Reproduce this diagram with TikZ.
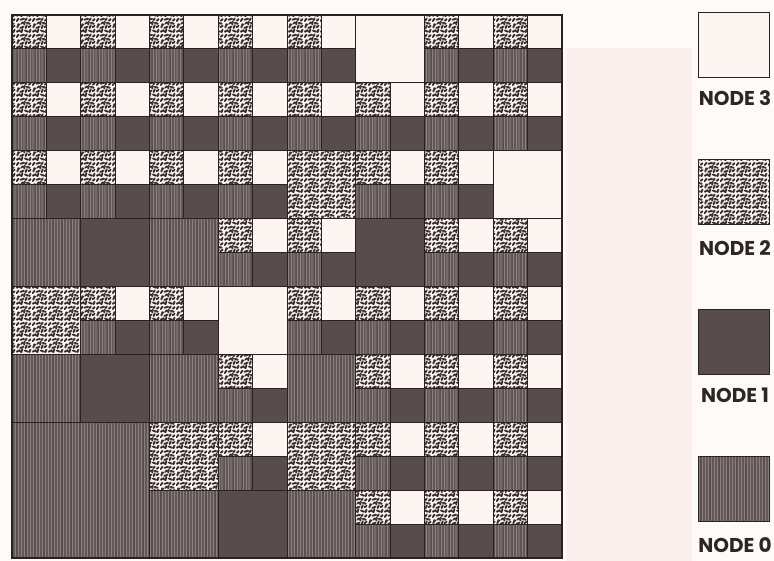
\documentclass[tikz,border=0pt]{standalone}
\usepackage{fontspec}
\newfontfamily\legendfont{Poppins}
\usetikzlibrary{patterns}

\definecolor{pagebg}{HTML}{FEFAF8}
\definecolor{pinktint}{HTML}{FBF0ED}
\definecolor{whitec}{HTML}{FDF5F1}
\definecolor{darkc}{HTML}{584C4C}
\definecolor{stripebase}{HTML}{5A4E4E}
\definecolor{stripelight}{HTML}{A89D9B}
\definecolor{speckbg}{HTML}{FAF3EF}
\definecolor{speckink}{HTML}{3A3232}
\definecolor{edgec}{HTML}{2A2222}
\definecolor{labelc}{HTML}{2E2626}

\pgfdeclarepatternformonly{speckle}{\pgfqpoint{0pt}{0pt}}{\pgfqpoint{16pt}{16pt}}{\pgfqpoint{16pt}{16pt}}{%
  \pgfsetlinewidth{2.0pt}\pgfsetroundcap\pgfsetroundjoin
  \pgfpathmoveto{\pgfqpoint{0.8pt}{1.3pt}}\pgfpathlineto{\pgfqpoint{3.5pt}{2.9pt}}\pgfpathlineto{\pgfqpoint{4.2pt}{1.6pt}}%
  \pgfpathmoveto{\pgfqpoint{5.6pt}{0.6pt}}\pgfpathlineto{\pgfqpoint{6.7pt}{3.8pt}}%
  \pgfpathmoveto{\pgfqpoint{9.3pt}{2.6pt}}\pgfpathlineto{\pgfqpoint{12.5pt}{1.4pt}}%
  \pgfpathmoveto{\pgfqpoint{14.1pt}{0.8pt}}\pgfpathlineto{\pgfqpoint{15.2pt}{3.5pt}}%
  \pgfpathmoveto{\pgfqpoint{1.4pt}{5.8pt}}\pgfpathlineto{\pgfqpoint{2.4pt}{9.0pt}}\pgfpathlineto{\pgfqpoint{3.6pt}{8.6pt}}%
  \pgfpathmoveto{\pgfqpoint{4.5pt}{5.3pt}}\pgfpathlineto{\pgfqpoint{7.8pt}{6.6pt}}%
  \pgfpathmoveto{\pgfqpoint{10.1pt}{5.1pt}}\pgfpathlineto{\pgfqpoint{11.2pt}{8.0pt}}%
  \pgfpathmoveto{\pgfqpoint{13.1pt}{6.1pt}}\pgfpathlineto{\pgfqpoint{15.2pt}{7.4pt}}%
  \pgfpathmoveto{\pgfqpoint{5.5pt}{9.6pt}}\pgfpathlineto{\pgfqpoint{7.1pt}{11.0pt}}%
  \pgfpathmoveto{\pgfqpoint{8.6pt}{8.8pt}}\pgfpathlineto{\pgfqpoint{9.0pt}{11.8pt}}%
  \pgfpathmoveto{\pgfqpoint{11.2pt}{10.6pt}}\pgfpathlineto{\pgfqpoint{14.4pt}{9.6pt}}%
  \pgfpathmoveto{\pgfqpoint{0.8pt}{12.5pt}}\pgfpathlineto{\pgfqpoint{2.6pt}{14.9pt}}%
  \pgfpathmoveto{\pgfqpoint{4.8pt}{13.8pt}}\pgfpathlineto{\pgfqpoint{8.3pt}{14.9pt}}%
  \pgfpathmoveto{\pgfqpoint{9.9pt}{13.3pt}}\pgfpathlineto{\pgfqpoint{11.2pt}{15.2pt}}%
  \pgfpathmoveto{\pgfqpoint{13.4pt}{12.8pt}}\pgfpathlineto{\pgfqpoint{15.2pt}{14.4pt}}%
  \pgfusepath{stroke}}

\pgfdeclarepatternformonly{vstripes}{\pgfqpoint{0pt}{0pt}}{\pgfqpoint{9pt}{700pt}}{\pgfqpoint{9pt}{700pt}}{%
  \pgfpathrectangle{\pgfqpoint{0.4pt}{0pt}}{\pgfqpoint{0.6pt}{700pt}}%
  \pgfpathrectangle{\pgfqpoint{2.0pt}{0pt}}{\pgfqpoint{0.4pt}{700pt}}%
  \pgfpathrectangle{\pgfqpoint{3.6pt}{0pt}}{\pgfqpoint{0.7pt}{700pt}}%
  \pgfpathrectangle{\pgfqpoint{5.4pt}{0pt}}{\pgfqpoint{0.35pt}{700pt}}%
  \pgfpathrectangle{\pgfqpoint{7.1pt}{0pt}}{\pgfqpoint{0.55pt}{700pt}}%
  \pgfusepath{fill}}

\tikzset{
  t0/.style={fill=stripebase, postaction={pattern=vstripes, pattern color=stripelight}},
  t1/.style={fill=darkc},
  t2/.style={fill=speckbg, postaction={pattern=speckle, pattern color=speckink}},
  t3/.style={fill=whitec},
  celledge/.style={draw=edgec, line width=0.9pt},
  legendbox/.style={minimum width=71pt, minimum height=65pt, inner sep=0pt, postaction={draw=edgec, line width=0.9pt}},
  legendlabel/.style={font=\legendfont\bfseries\fontsize{20}{24}\selectfont, text=labelc, inner sep=0pt, anchor=base},
}

\newcommand\cellw{34.375}
\newcommand\cellh{33.94}
\newcommand\gridx{12}
\newcommand\gridy{15}
\newcommand\fillleaf[4]{\path[t#4] ({\gridx+(#2)*\cellw},{\gridy+(#1)*\cellh}) rectangle ++({(#3)*\cellw},{(#3)*\cellh});}
\newcommand\edgeleaf[4]{\path[celledge] ({\gridx+(#2)*\cellw},{\gridy+(#1)*\cellh}) rectangle ++({(#3)*\cellw},{(#3)*\cellh});}
\newcommand\dflt[2]{\leaf{#1}{#2}{1}{2}\leaf{#1}{#2+1}{1}{3}\leaf{#1+1}{#2}{1}{0}\leaf{#1+1}{#2+1}{1}{1}}
\newcommand\gridcontent{%
  % top-left quadrant
  \dflt{0}{0}\dflt{0}{2}\dflt{2}{0}\dflt{2}{2}
  \dflt{0}{4}\dflt{0}{6}\dflt{2}{4}\dflt{2}{6}
  \dflt{4}{0}\dflt{4}{2}\leaf{6}{0}{2}{0}\leaf{6}{2}{2}{1}
  \dflt{4}{4}\dflt{4}{6}\leaf{6}{4}{2}{0}\dflt{6}{6}
  % top-right quadrant
  \dflt{0}{8}\leaf{0}{10}{2}{3}\dflt{2}{8}\dflt{2}{10}
  \dflt{0}{12}\dflt{0}{14}\dflt{2}{12}\dflt{2}{14}
  \leaf{4}{8}{2}{2}\dflt{4}{10}\dflt{6}{8}\leaf{6}{10}{2}{1}
  \dflt{4}{12}\leaf{4}{14}{2}{3}\dflt{6}{12}\dflt{6}{14}
  % bottom-left quadrant
  \leaf{8}{0}{2}{2}\dflt{8}{2}\leaf{10}{0}{2}{0}\leaf{10}{2}{2}{1}
  \dflt{8}{4}\leaf{8}{6}{2}{3}\leaf{10}{4}{2}{0}\dflt{10}{6}
  \leaf{12}{0}{4}{0}
  \leaf{12}{4}{2}{2}\dflt{12}{6}\leaf{14}{4}{2}{0}\leaf{14}{6}{2}{1}
  % bottom-right quadrant
  \dflt{8}{8}\dflt{8}{10}\leaf{10}{8}{2}{0}\dflt{10}{10}
  \dflt{8}{12}\dflt{8}{14}\dflt{10}{12}\dflt{10}{14}
  \leaf{12}{8}{2}{2}\dflt{12}{10}\leaf{14}{8}{2}{0}\dflt{14}{10}
  \dflt{12}{12}\dflt{12}{14}\dflt{14}{12}\dflt{14}{14}
}

\begin{document}
\begin{tikzpicture}[x=1pt, y=-1pt]
  \useasboundingbox (0,0) rectangle (774,561);
  \fill[pagebg] (0,0) rectangle (774,561);
  \fill[pinktint] (566,48) rectangle (692,561);

  % grid cells: fills first, then edges
  \let\leaf\fillleaf
  \gridcontent
  \let\leaf\edgeleaf
  \gridcontent
  \draw[edgec, line width=1.2pt] (\gridx,\gridy) rectangle ({\gridx+16*\cellw},{\gridy+16*\cellh});

  % legend
  \node[t3, legendbox] (box3) at (733.5,45) {};
  \node[legendlabel] (lab3) at (735,106) {NODE 3};
  \node[t2, legendbox] (box2) at (733.5,192) {};
  \node[legendlabel] (lab2) at (735,256) {NODE 2};
  \node[t1, legendbox] (box1) at (733.5,342) {};
  \node[legendlabel] (lab1) at (735,402) {NODE 1};
  \node[t0, legendbox] (box0) at (733.5,488.5) {};
  \node[legendlabel] (lab0) at (735,552) {NODE 0};
\end{tikzpicture}
\end{document}
